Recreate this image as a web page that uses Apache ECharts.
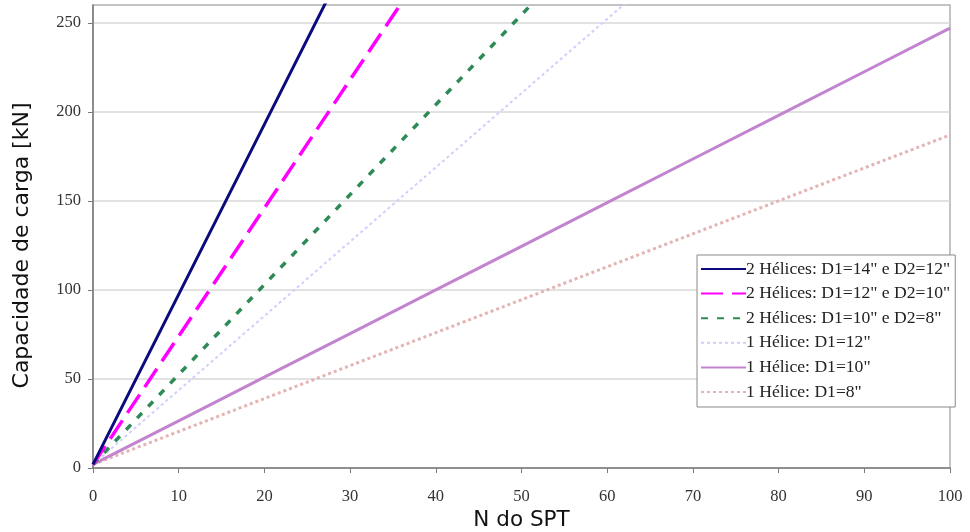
<!DOCTYPE html>
<html><head><meta charset="utf-8">
<script src="https://cdn.jsdelivr.net/npm/echarts@6/dist/echarts.min.js"></script>
<style>html,body{margin:0;padding:0;background:#fff}#c{width:970px;height:532px}</style>
</head><body><div id="c"></div>
<script>
const nSpt = [0,10,20,30,40,50,60,70,80,90,100];
const names = [
  '2 Hélices: D1=14" e D2=12"',
  '2 Hélices: D1=12" e D2=10"',
  '2 Hélices: D1=10" e D2=8"',
  '1 Hélice: D1=12"',
  '1 Hélice: D1=10"',
  '1 Hélice: D1=8"'
];
const h2_14_12 = [2, 97.5, 193, 288.5, 384, 479.5, 575, 670.5, 766, 861.5, 957];
const h2_12_10 = [2, 74, 146, 218, 290, 362, 434, 506, 578, 650, 722];
const h2_10_8  = [2, 52.5, 103, 153.5, 204, 254.5, 305, 355.5, 406, 456.5, 507];
const h1_12    = [2, 43.7, 85.4, 127.1, 168.8, 210.5, 252.2, 293.9, 335.6, 377.3, 419];
const h1_10    = [2, 26.5, 51, 75.5, 100, 124.5, 149, 173.5, 198, 222.5, 247];
const h1_8     = [2, 20.5, 39, 57.5, 76, 94.5, 113, 131.5, 150, 168.5, 187];
const xTicks = [0,10,20,30,40,50,60,70,80,90,100];
const yTicks = [0,50,100,150,200,250];

const seriesData = [h2_14_12, h2_12_10, h2_10_8, h1_12, h1_10, h1_8];
const styles = [
  {color:'#0b0b7e', width:3, type:'solid'},
  {color:'#ff00ff', width:3.5, type:[22,9]},
  {color:'#2e8b57', width:3.5, type:[7,9]},
  {color:'#cfcfff', width:2, type:[3,3]},
  {color:'#c384cf', width:3, type:'solid'},
  {color:'#e4b4b4', width:3, type:[3,3]}
];
const series = seriesData.map((d,i)=>({
  name: names[i], type:'line', showSymbol:false, symbol:'none', silent:true,
  data: d.map((v,j)=>[nSpt[j], v]),
  lineStyle: styles[i], itemStyle:{color:styles[i].color},
  clip:true, z: 10-i
}));
const chart = echarts.init(document.getElementById('c'), null, {renderer:'canvas'});
chart.setOption({
  animation:false,
  backgroundColor:'#fff',
  grid:{left:93, right:20, top:5, bottom:64, show:true, borderColor:'#b0b0b0', borderWidth:1.5,
        containLabel:false, outerBoundsMode:'none'},
  legend:{
    orient:'vertical', left:697, top:255, data:names,
    backgroundColor:'#fff', borderColor:'#8a8a8a', borderWidth:1,
    padding:[5,5,6,3], itemWidth:45, itemHeight:2, itemGap:6.6,
    itemStyle:{opacity:0},
    textStyle:{fontFamily:'Liberation Serif', fontSize:17.6, lineHeight:18, color:'#222', padding:[0,0,0,-5]}
  },
  xAxis:{
    type:'value', min:0, max:100, interval:10,
    name:'N do SPT', nameLocation:'middle', nameGap:38,
    nameTextStyle:{fontFamily:'DejaVu Sans', fontSize:21.5, color:'#111'},
    axisLine:{lineStyle:{color:'#7a7a7a', width:1.5}},
    axisTick:{show:true, length:5, lineStyle:{color:'#7a7a7a'}, customValues:xTicks},
    axisLabel:{fontFamily:'Liberation Serif', fontSize:16.5, color:'#333', margin:20, customValues:xTicks},
    splitLine:{show:false}
  },
  yAxis:{
    type:'value', min:0, max:260, interval:50,
    name:'Capacidade de carga [kN]', nameLocation:'middle', nameGap:60, nameRotate:90,
    nameTextStyle:{fontFamily:'DejaVu Sans', fontSize:22, color:'#111', padding:[0,18,0,0]},
    axisLine:{show:true, lineStyle:{color:'#7a7a7a', width:1.5}},
    axisTick:{show:true, length:5, lineStyle:{color:'#7a7a7a'}, customValues:yTicks},
    axisLabel:{fontFamily:'Liberation Serif', fontSize:16.5, color:'#333', margin:12, customValues:yTicks},
    splitLine:{show:true, lineStyle:{color:'#d8d8d8', width:1.5}}
  },
  series: series
});
</script></body></html>
